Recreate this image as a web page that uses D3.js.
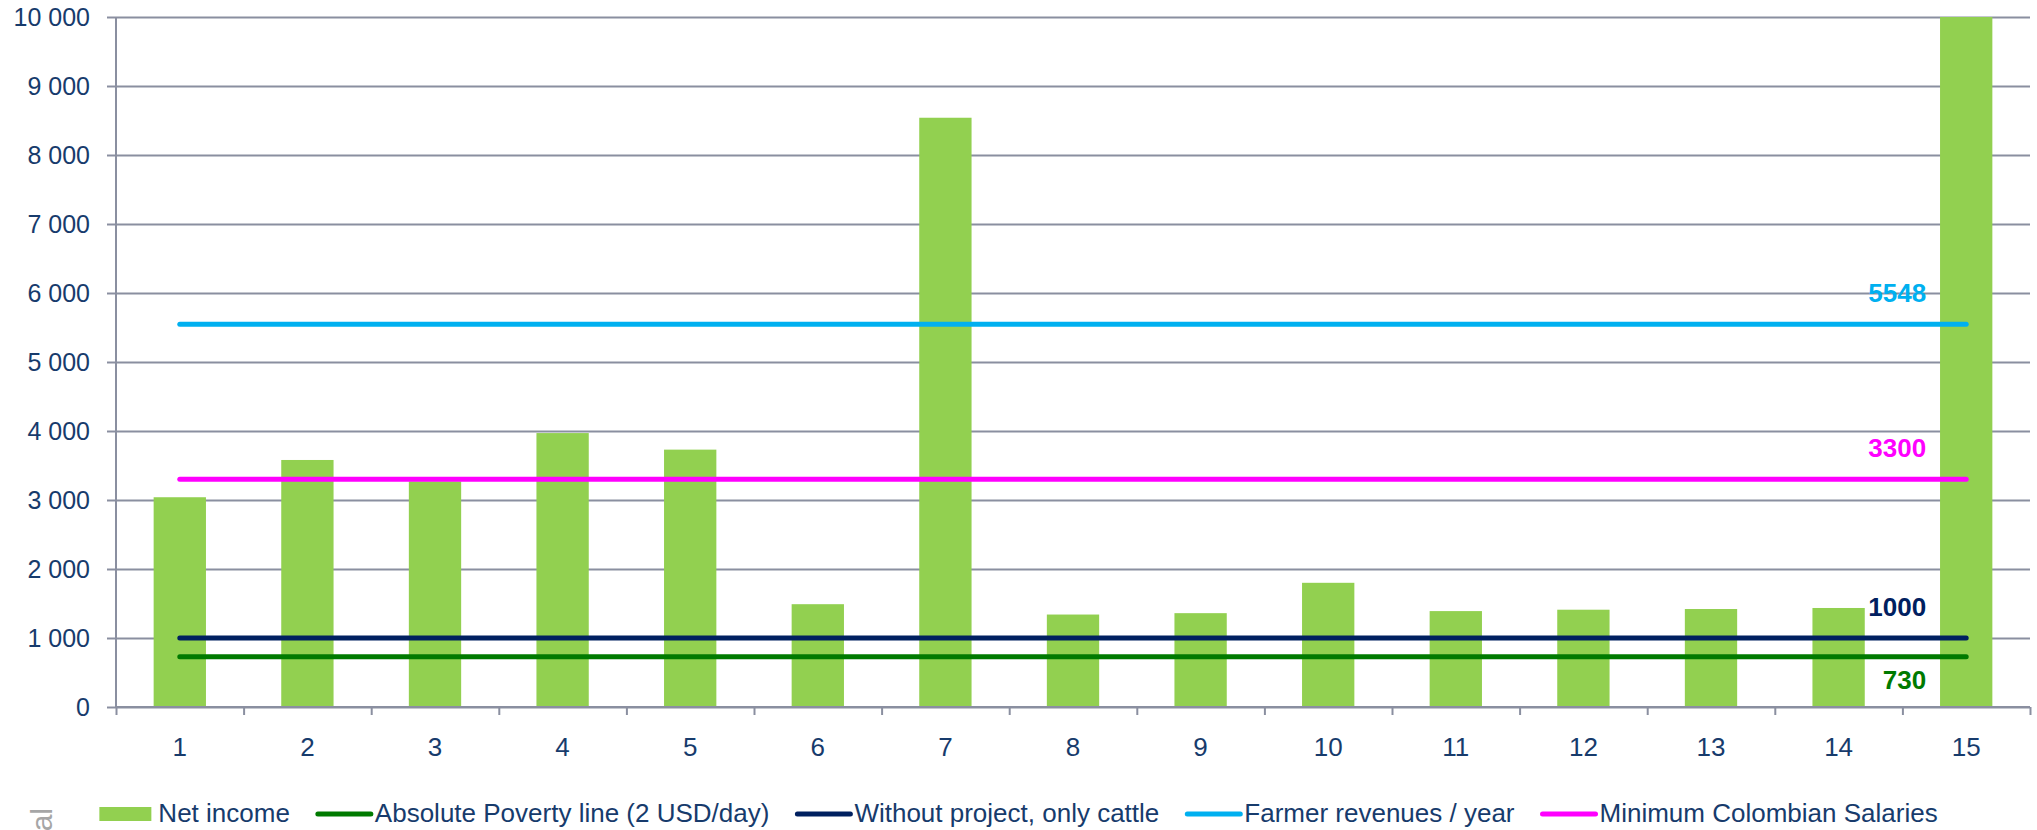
<!DOCTYPE html>
<html>
<head>
<meta charset="utf-8">
<script src="https://cdn.jsdelivr.net/npm/d3@7"></script>
<style>
  html, body { margin: 0; padding: 0; background: #fff; }
  svg { display: block; font-family: Arial, "Liberation Sans", sans-serif; }
</style>
</head>
<body>
<svg id="chart"></svg>
<script>
// chart values
const farms = ['1', '2', '3', '4', '5', '6', '7', '8', '9', '10', '11', '12', '13', '14', '15'];
const netIncome = [3040, 3580, 3270, 3970, 3730, 1490, 8540, 1340, 1360, 1800, 1390, 1410, 1420, 1435, 10000];
const povertyLine = [730, 730, 730, 730, 730, 730, 730, 730, 730, 730, 730, 730, 730, 730, 730];
const onlyCattle = [1000, 1000, 1000, 1000, 1000, 1000, 1000, 1000, 1000, 1000, 1000, 1000, 1000, 1000, 1000];
const farmerRevenues = [5548, 5548, 5548, 5548, 5548, 5548, 5548, 5548, 5548, 5548, 5548, 5548, 5548, 5548, 5548];
const minSalaries = [3300, 3300, 3300, 3300, 3300, 3300, 3300, 3300, 3300, 3300, 3300, 3300, 3300, 3300, 3300];
const yTicks = [0, 1000, 2000, 3000, 4000, 5000, 6000, 7000, 8000, 9000, 10000];

const width = 2037;
const height = 830;
const margin = { top: 17, right: 7, bottom: 123, left: 116 };
const innerW = width - margin.left - margin.right;
const innerH = height - margin.top - margin.bottom;

const textColor = '#173b6c';
const gridColor = '#8a8fa0';

const lines = [
    { name: 'Absolute Poverty line (2 USD/day)', values: povertyLine, color: '#007a00', place: 'below' },
    { name: 'Without project, only cattle', values: onlyCattle, color: '#002060', place: 'above' },
    { name: 'Farmer revenues / year', values: farmerRevenues, color: '#00b0f0', place: 'above' },
    { name: 'Minimum Colombian Salaries', values: minSalaries, color: '#ff00ff', place: 'above' }
];

const fmt = d3.formatLocale({ decimal: ',', thousands: ' ', grouping: [3], currency: ['', ''] }).format(',d');

const svg = d3.select('#chart').attr('width', width).attr('height', height);
const g = svg.append('g').attr('transform', 'translate(' + margin.left + ',' + margin.top + ')');

const x = d3.scaleBand().domain(farms).range([0, innerW]).paddingInner(0.59).paddingOuter(0.295);
const xEdges = d3.scaleLinear().domain([0, farms.length]).range([0, innerW]);
const y = d3.scaleLinear().domain([0, 10000]).range([innerH, 0]);

// gridlines
g.append('g')
    .call(d3.axisLeft(y).tickValues(yTicks).tickSize(-innerW).tickFormat(''))
    .call(s => s.select('.domain').remove())
    .selectAll('line').attr('stroke', gridColor).attr('stroke-width', 2);

// y axis with short outer ticks and labels
g.append('g')
    .call(d3.axisLeft(y).tickValues(yTicks).tickSize(9).tickPadding(17).tickFormat(fmt))
    .call(s => s.select('.domain').attr('stroke', gridColor).attr('stroke-width', 2).attr('d', 'M0,0V' + innerH))
    .call(s => s.selectAll('line').attr('stroke', gridColor).attr('stroke-width', 2))
    .call(s => s.selectAll('text').attr('fill', textColor).style('font-size', '25px'));

// bars
g.selectAll('rect.bar').data(netIncome).enter().append('rect')
    .attr('class', 'bar')
    .attr('x', (d, i) => x(farms[i]))
    .attr('y', d => y(d))
    .attr('width', x.bandwidth())
    .attr('height', d => innerH - y(d))
    .attr('fill', '#92d050');

// x axis: boundary ticks
g.append('g')
    .attr('transform', 'translate(0,' + innerH + ')')
    .call(d3.axisBottom(xEdges).tickValues(d3.range(farms.length + 1)).tickSize(8).tickFormat(''))
    .call(s => s.select('.domain').attr('stroke', gridColor).attr('stroke-width', 2).attr('d', 'M0,0H' + innerW))
    .selectAll('line').attr('stroke', gridColor).attr('stroke-width', 2);

// x axis labels
g.append('g')
    .attr('transform', 'translate(0,' + innerH + ')')
    .call(d3.axisBottom(x).tickSize(0).tickPadding(31))
    .call(s => s.select('.domain').remove())
    .selectAll('text').attr('fill', textColor).style('font-size', '26px');

// reference lines
const cx = (d, i) => x(farms[i]) + x.bandwidth() / 2;
const lineGen = d3.line().x(cx).y(d => y(d));

lines.forEach(s => {
    g.append('path')
        .datum(s.values)
        .attr('d', lineGen)
        .attr('fill', 'none')
        .attr('stroke', s.color)
        .attr('stroke-width', 5)
        .attr('stroke-linecap', 'round');

    const last = s.values.length - 1;
    g.append('text')
        .attr('x', cx(null, last) - 40)
        .attr('y', y(s.values[last]))
        .attr('dy', s.place === 'above' ? -22 : 32)
        .attr('text-anchor', 'end')
        .attr('fill', s.color)
        .style('font-size', '26px')
        .style('font-weight', 'bold')
        .text(s.values[last]);
});

// legend, centred on the page
const legend = svg.append('g').attr('transform', 'translate(0,822)');
const items = [{ name: 'Net income', color: '#92d050', bar: true }].concat(lines);
let cursor = 0;
items.forEach(it => {
    const item = legend.append('g').attr('transform', 'translate(' + cursor + ',0)');
    if (it.bar) {
        item.append('rect').attr('x', 0).attr('y', -15).attr('width', 52).attr('height', 14).attr('fill', it.color);
    } else {
        item.append('line').attr('x1', 2).attr('x2', 55).attr('y1', -8).attr('y2', -8)
            .attr('stroke', it.color).attr('stroke-width', 5).attr('stroke-linecap', 'round');
    }
    const t = item.append('text').attr('x', 59).attr('fill', textColor).style('font-size', '26px').text(it.name);
    cursor += 59 + t.node().getComputedTextLength() + 26;
});
const legendW = cursor - 26;
legend.attr('transform', 'translate(' + ((width - legendW) / 2) + ',822)');

// clipped side note
svg.append('text')
    .attr('transform', 'translate(52,808) rotate(-90)')
    .attr('text-anchor', 'end')
    .attr('fill', '#a6a6a6')
    .style('font-size', '30px')
    .text('al');
</script>
</body>
</html>
